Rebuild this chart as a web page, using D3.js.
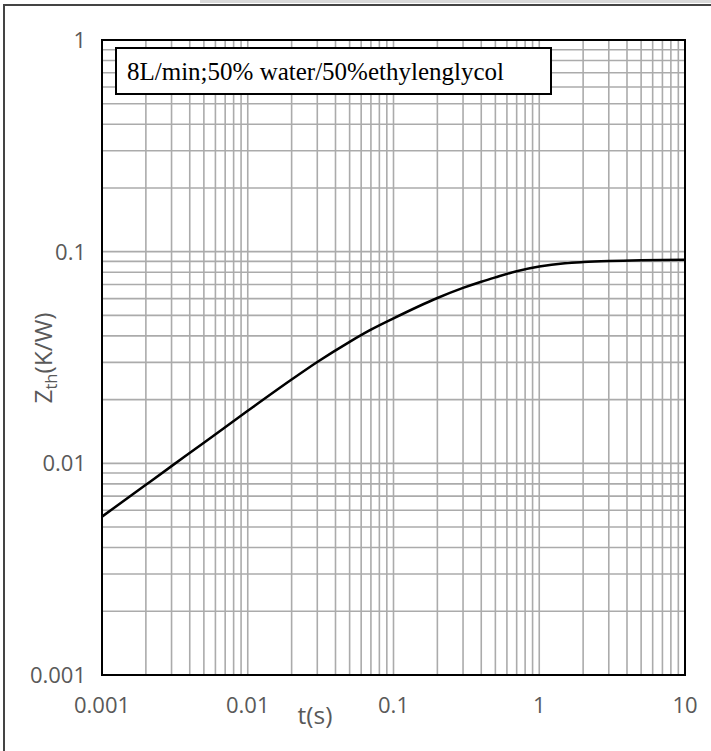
<!DOCTYPE html>
<html>
<head>
<meta charset="utf-8">
<script src="https://cdn.jsdelivr.net/npm/d3@7"></script>
<style>
  body { margin: 0; background: #fff; }
  svg { display: block; }
</style>
</head>
<body>
<svg id="chart" width="711" height="751"></svg>
<script>
// time values (s)
const tValues = [0.001, 0.002, 0.003, 0.005, 0.007, 0.01, 0.02, 0.03, 0.05, 0.07,
                 0.1, 0.2, 0.3, 0.4, 0.5, 0.7, 1, 1.5, 2, 3, 5, 10];
// thermal impedance Zth (K/W)
const zthValues = [0.0056, 0.00792, 0.0097, 0.01252, 0.01482, 0.0177, 0.02487, 0.0301, 0.0375, 0.0428,
                   0.0484, 0.0604, 0.0674, 0.0721, 0.0756, 0.0808, 0.0850, 0.0881, 0.0893, 0.0904, 0.0912, 0.0916];
const xTicks = [0.001, 0.01, 0.1, 1, 10];
const xTickLabels = ["0.001", "0.01", "0.1", "1", "10"];
const yTicks = [0.001, 0.01, 0.1, 1];
const yTickLabels = ["0.001", "0.01", "0.1", "1"];
const legendText = "8L/min;50% water/50%ethylenglycol";

let svg = d3.select("#chart");
let plot = {left: 102, right: 685, top: 40, bottom: 675};

// frame of the picture (left and top only, picture is cropped)
svg.append("rect").attr("x", 200).attr("y", 0).attr("width", 511).attr("height", 3)
   .attr("fill", "#d9d9d9");
svg.append("path").attr("d", "M4,751 V5 H711")
   .attr("fill", "none").attr("stroke", "#444").attr("stroke-width", 2);

let x = d3.scaleLog().domain([0.001, 10]).range([plot.left, plot.right]);
let y = d3.scaleLog().domain([0.001, 1]).range([plot.bottom, plot.top]);

// minor + major gridlines for each decade
let gridX = x.ticks().filter(d => d > 0.001 && d < 10);
let gridY = y.ticks().filter(d => d > 0.001 && d < 1);

let grid = svg.append("g").attr("stroke", "#ababab").attr("stroke-width", 1.6);
grid.selectAll("line.gx").data(gridX).enter().append("line")
    .attr("x1", d => x(d)).attr("x2", d => x(d))
    .attr("y1", plot.top).attr("y2", plot.bottom);
grid.selectAll("line.gy").data(gridY).enter().append("line")
    .attr("y1", d => y(d)).attr("y2", d => y(d))
    .attr("x1", plot.left).attr("x2", plot.right);

// plot border
svg.append("rect")
   .attr("x", plot.left).attr("y", plot.top)
   .attr("width", plot.right - plot.left).attr("height", plot.bottom - plot.top)
   .attr("fill", "none").attr("stroke", "#000").attr("stroke-width", 2);

// the curve
let line = d3.line()
    .x((d, i) => x(tValues[i]))
    .y(d => y(d))
    .curve(d3.curveMonotoneX);
svg.append("path")
   .datum(zthValues)
   .attr("d", line)
   .attr("fill", "none")
   .attr("stroke", "#000")
   .attr("stroke-width", 2.5);

// tick labels
let tickFont = "'Open Sans', sans-serif";
svg.append("g").selectAll("text").data(xTicks).enter().append("text")
   .attr("x", d => x(d)).attr("y", 713)
   .attr("text-anchor", "middle")
   .attr("font-family", tickFont).attr("font-size", 22)
   .attr("fill", "#595959")
   .text((d, i) => xTickLabels[i]);
svg.append("g").selectAll("text").data(yTicks).enter().append("text")
   .attr("x", 86).attr("y", d => y(d) + 8)
   .attr("text-anchor", "end")
   .attr("font-family", tickFont).attr("font-size", 22)
   .attr("fill", "#595959")
   .text((d, i) => yTickLabels[i]);

// axis titles
svg.append("text")
   .attr("x", 315).attr("y", 724)
   .attr("text-anchor", "middle")
   .attr("font-family", tickFont).attr("font-size", 24.5)
   .attr("fill", "#595959")
   .text("t(s)");

let yTitle = svg.append("text")
   .attr("transform", "translate(52,358) rotate(-90)")
   .attr("text-anchor", "middle")
   .attr("font-family", tickFont).attr("font-size", 24.5)
   .attr("fill", "#595959");
yTitle.append("tspan").text("Z");
yTitle.append("tspan").attr("font-size", 16.5).attr("dy", 5).text("th");
yTitle.append("tspan").attr("dy", -5).text("(K/W)");

// legend box
svg.append("rect")
   .attr("x", 116).attr("y", 48).attr("width", 435).attr("height", 46)
   .attr("fill", "#fff").attr("stroke", "#000").attr("stroke-width", 2);
svg.append("text")
   .attr("x", 127).attr("y", 80)
   .attr("font-family", "'Liberation Serif', 'Times New Roman', serif")
   .attr("font-size", 25)
   .attr("fill", "#000")
   .text(legendText);
</script>
</body>
</html>
